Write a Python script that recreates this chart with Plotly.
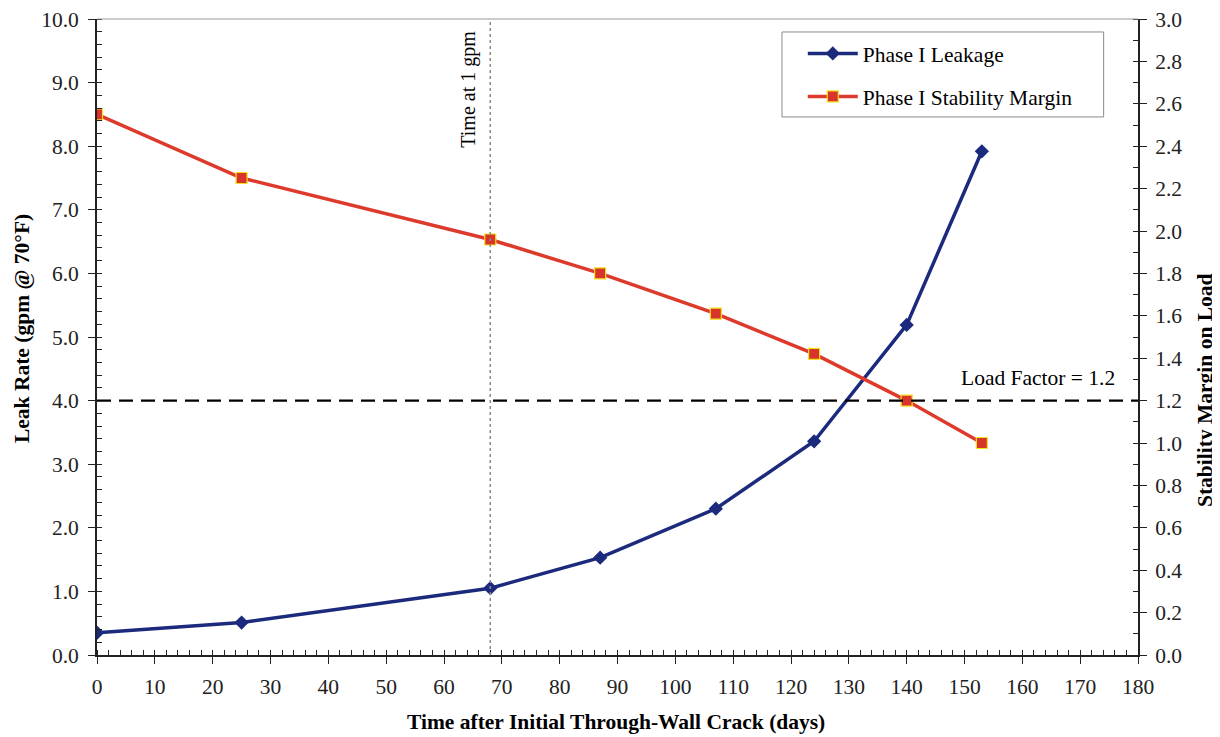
import plotly.graph_objects as go

# ---- data ----
days = [0, 25, 68, 87, 107, 124, 140, 153]
leak_rate = [0.35, 0.51, 1.05, 1.53, 2.30, 3.36, 5.19, 7.92]
stability_margin = [2.55, 2.25, 1.96, 1.80, 1.61, 1.42, 1.20, 1.00]
time_at_1gpm = 68
load_factor = 1.2

FONT = "Liberation Serif"
BLUE = "#1b2a7c"
RED = "#de3a2c"

fig = go.Figure()

fig.add_trace(go.Scatter(
    x=days, y=leak_rate, name="Phase I Leakage", mode="lines+markers",
    line=dict(color=BLUE, width=3.5),
    marker=dict(symbol="diamond", size=11, color=BLUE),
    legendgroup="a",
))
fig.add_trace(go.Scatter(
    x=days, y=stability_margin, name="Phase I Stability Margin", mode="lines+markers",
    line=dict(color=RED, width=3.5),
    marker=dict(symbol="square", size=11, color="#d8342c", line=dict(color="#f2e21c", width=1.2)),
    yaxis="y2", legendgroup="b",
))

# legend frame
fig.add_shape(type="rect", xref="paper", yref="paper", x0=0.658, x1=0.967, y0=0.846, y1=0.9796,
              line=dict(color="#8a8a8a", width=1), fillcolor="white", layer="below")
# reference lines
fig.add_shape(type="line", xref="x", yref="paper", x0=time_at_1gpm, x1=time_at_1gpm, y0=0, y1=1,
              line=dict(color="#8a8a8a", width=1.5, dash="dot"))
fig.add_shape(type="line", xref="paper", yref="y2", x0=0, x1=1, y0=load_factor, y1=load_factor,
              line=dict(color="black", width=2.2, dash="14px,8px"))
# top border
fig.add_shape(type="line", xref="paper", yref="paper", x0=0, x1=1, y0=1, y1=1,
              line=dict(color="#9a9a9a", width=1.2))

fig.add_annotation(x=time_at_1gpm, xref="x", y=0.89, yref="paper", text="Time at 1 gpm",
                   textangle=-90, showarrow=False, xanchor="right", yanchor="middle", xshift=-8,
                   font=dict(family=FONT, size=20, color="black"))
fig.add_annotation(x=1, xref="paper", y=load_factor, yref="y2", text=f"Load Factor = {load_factor}",
                   showarrow=False, xanchor="right", yanchor="middle", xshift=-21, yshift=23,
                   font=dict(family=FONT, size=21.5, color="black"))

# axis titles
TITLE_FONT = dict(family=FONT, size=21.5, color="black")
fig.add_annotation(x=0.4986, y=-0.1053, xref="paper", yref="paper", showarrow=False,
                   text="<b>Time after Initial Through-Wall Crack (days)</b>",
                   xanchor="center", yanchor="middle", font=TITLE_FONT)
fig.add_annotation(x=-0.072, y=0.5126, xref="paper", yref="paper", showarrow=False,
                   text="<b>Leak Rate (gpm @ 70°F)</b>", textangle=-90,
                   xanchor="center", yanchor="middle", font=TITLE_FONT)
fig.add_annotation(x=1.0644, y=0.4167, xref="paper", yref="paper", showarrow=False,
                   text="<b>Stability Margin on Load</b>", textangle=-90,
                   xanchor="center", yanchor="middle", font=TITLE_FONT)

axis_common = dict(
    showgrid=False, zeroline=False, showline=True, linecolor="#222", linewidth=1.8,
    ticks="outside", ticklen=7, tickwidth=1.3, tickcolor="#222", automargin=False,
    ticklabeloverflow="allow",
    tickfont=dict(family=FONT, size=21.5, color="#222"),
)

# the page body has an 8px margin, so the figure is shrunk by that amount
fig.update_layout(
    width=1212, height=729,
    margin=dict(l=89, r=82, t=11, b=82, autoexpand=False),
    paper_bgcolor="white", plot_bgcolor="white",
    font=dict(family=FONT, size=21, color="black"),
    xaxis=dict(
        range=[0, 180], dtick=10, tick0=0, ticklabelstandoff=4,
        minor=dict(dtick=2, ticks="inside", ticklen=5, tickcolor="#222", tickwidth=1),
        **axis_common,
    ),
    yaxis=dict(
        range=[0, 10], dtick=1, tick0=0, tickformat=".1f", ticklabelstandoff=5,
        minor=dict(dtick=0.2, ticks="inside", ticklen=5, tickcolor="#222", tickwidth=1),
        **axis_common,
    ),
    yaxis2=dict(
        range=[0, 3], dtick=0.2, tick0=0, tickformat=".1f", overlaying="y", side="right",
        ticklabelstandoff=4,
        minor=dict(dtick=0.1, ticks="inside", ticklen=5, tickcolor="#222", tickwidth=1),
        **axis_common,
    ),
    legend=dict(
        x=0.678, y=0.978, xanchor="left", yanchor="top",
        borderwidth=0, bgcolor="rgba(0,0,0,0)",
        font=dict(family=FONT, size=21.5, color="black"),
        traceorder="grouped", tracegroupgap=12, itemwidth=50,
    ),
    showlegend=True,
)

fig.write_html("out.html")
